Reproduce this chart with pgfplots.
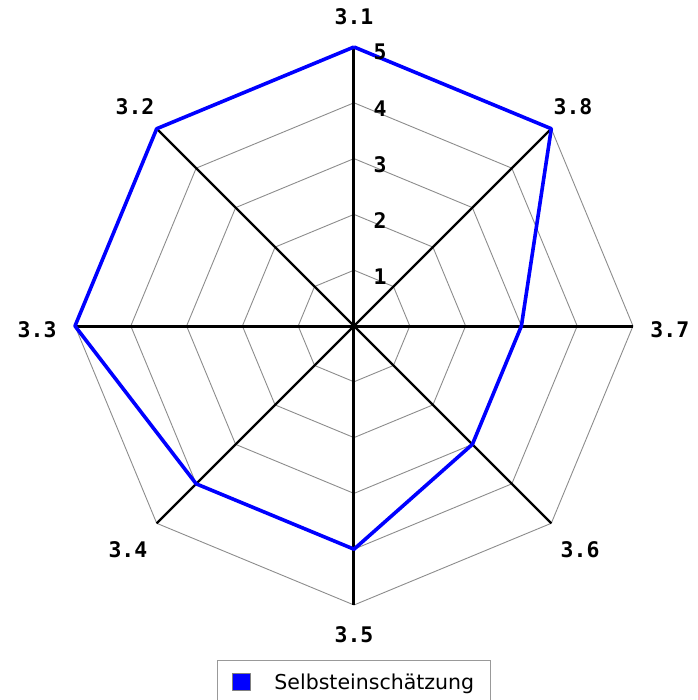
\documentclass[border=0pt]{standalone}
\usepackage{fontspec}
\setmainfont{DejaVu Sans}
\newfontfamily\labfont{DejaVu Sans Mono}
\usepackage{pgfplots}
\pgfplotsset{compat=1.18}
\usepgfplotslibrary{polar}
\newcommand{\lab}{\labfont\bfseries\fontsize{21.5}{21.5}\selectfont}
\begin{document}
\begin{tikzpicture}
\path[use as bounding box] (-354pt,-374pt) rectangle (343pt,326pt);
\begin{polaraxis}[
  at={(0pt,0pt)}, anchor=center,
  scale only axis, width=558pt, height=558pt,
  xmin=0, xmax=360, ymin=0, ymax=5,
  hide axis, xtick=\empty, ytick=\empty,
  clip=false,
  legend style={at={(0.5,-0.0986)}, anchor=north, draw=gray!80, line width=0.8pt,
    font=\fontsize{20.5}{20.5}\selectfont, inner xsep=14pt, inner ysep=11pt,
    nodes={inner sep=2pt}, column sep=22pt},
  legend image code/.code={\draw[fill=blue, draw=black!50, line width=0.6pt] (0pt,-8.5pt) rectangle (18pt,8.5pt);},
]
% grid octagons
\addplot[gray!90, line width=0.9pt, forget plot] coordinates {(0,1)(45,1)(90,1)(135,1)(180,1)(225,1)(270,1)(315,1)(360,1)};
\addplot[gray!90, line width=0.9pt, forget plot] coordinates {(0,2)(45,2)(90,2)(135,2)(180,2)(225,2)(270,2)(315,2)(360,2)};
\addplot[gray!90, line width=0.9pt, forget plot] coordinates {(0,3)(45,3)(90,3)(135,3)(180,3)(225,3)(270,3)(315,3)(360,3)};
\addplot[gray!90, line width=0.9pt, forget plot] coordinates {(0,4)(45,4)(90,4)(135,4)(180,4)(225,4)(270,4)(315,4)(360,4)};
\addplot[gray!90, line width=0.9pt, forget plot] coordinates {(0,5)(45,5)(90,5)(135,5)(180,5)(225,5)(270,5)(315,5)(360,5)};
% spokes
\addplot[black, line width=3pt, forget plot] coordinates {(0,5)(0,0)(180,5)};
\addplot[black, line width=3pt, forget plot] coordinates {(90,5)(90,0)(270,5)};
\addplot[black, line width=2.4pt, forget plot] coordinates {(45,5)(45,0)(225,5)};
\addplot[black, line width=2.4pt, forget plot] coordinates {(135,5)(135,0)(315,5)};
% data
\addplot[blue, line width=3.6pt, line join=round] coordinates {(90,5)(135,5)(180,5)(225,4)(270,4)(315,3)(360,3)(405,5)(450,5)};
\addlegendentry{Selbsteinschätzung}
% category labels
\node[font=\lab] at (axis cs:90,5.54) {3.1};
\node[font=\lab] at (axis cs:45,5.55) {3.8};
\node[font=\lab] at (axis cs:359.3,5.66) {3.7};
\node[font=\lab] at (axis cs:315.3,5.70) {3.6};
\node[font=\lab] at (axis cs:270,5.54) {3.5};
\node[font=\lab] at (axis cs:224.7,5.70) {3.4};
\node[font=\lab] at (axis cs:180.7,5.68) {3.3};
\node[font=\lab] at (axis cs:135,5.55) {3.2};
% radial tick labels
\node[font=\lab, xshift=26pt, yshift=-6pt] at (axis cs:90,1) {1};
\node[font=\lab, xshift=26pt, yshift=-6pt] at (axis cs:90,2) {2};
\node[font=\lab, xshift=26pt, yshift=-6pt] at (axis cs:90,3) {3};
\node[font=\lab, xshift=26pt, yshift=-6pt] at (axis cs:90,4) {4};
\node[font=\lab, xshift=26pt, yshift=-5pt] at (axis cs:90,5) {5};
\end{polaraxis}
\end{tikzpicture}
\end{document}
